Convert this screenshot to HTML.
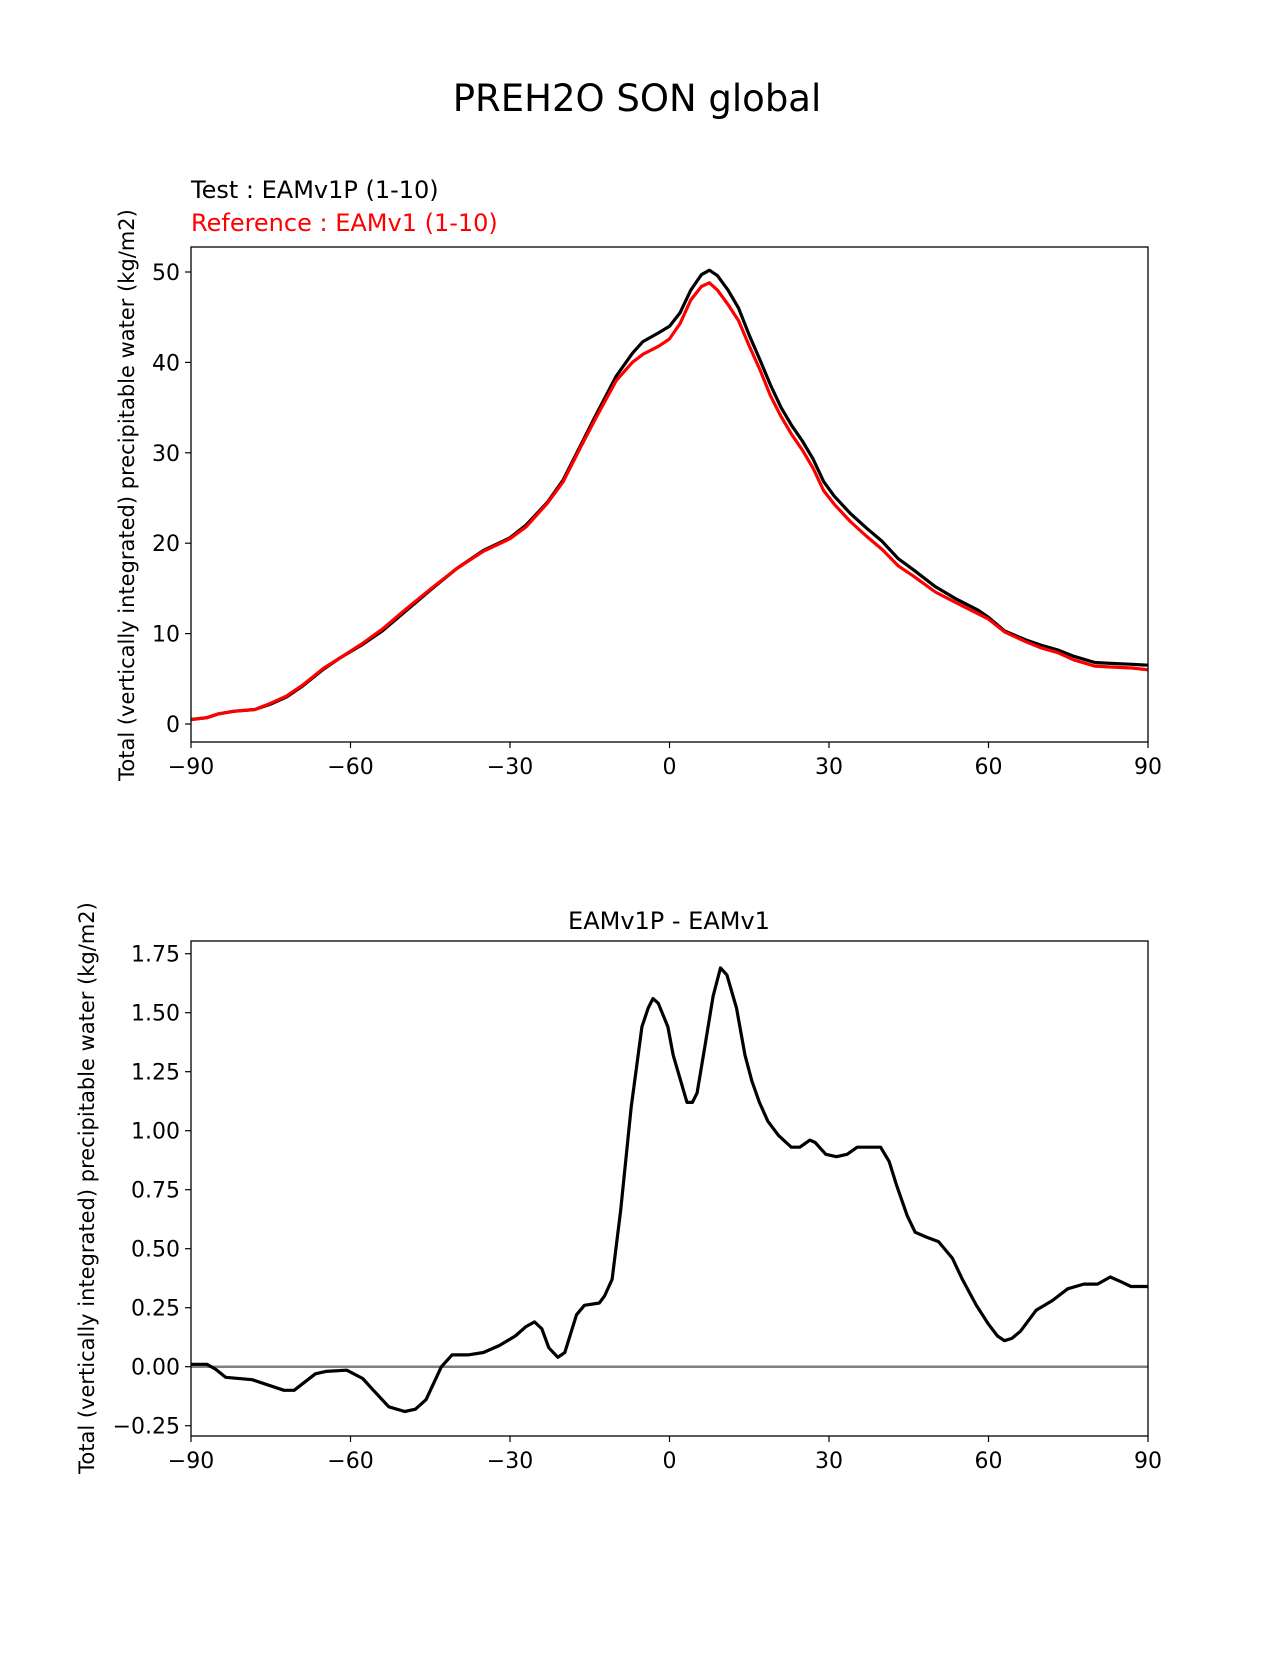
<!DOCTYPE html>
<html><head><meta charset="utf-8"><style>
body{margin:0;background:#fff;}
svg text{font-family:"DejaVu Sans","Liberation Sans",sans-serif;}
</style></head><body>
<svg id="chart" width="1275" height="1650" viewBox="0 0 1275 1650">
<text x="637" y="111" font-size="37" text-anchor="middle">PREH2O SON global</text>
<text x="191" y="198" font-size="24">Test : EAMv1P (1-10)</text>
<text x="191" y="231" font-size="24" fill="#ff0000">Reference : EAMv1 (1-10)</text>
<text x="669" y="929" font-size="24" text-anchor="middle">EAMv1P - EAMv1</text>
<g id="top"></g>
<g id="bot"></g>
</svg>
<script>
const lats = [-90,-87,-85,-82,-78,-75,-72,-69,-65,-62,-58,-54,-50,-45,-40,-35,-30,-27,-23,-20,-17,-14,-10,-7,-5,-2,0,2,4,6,7.5,9,11,13,15,17,19,21,23,25,27,29,31,34,37,40,43,46,50,54,58,60,63,67,70,73,76,80,83,87,90];
const testVals = [0.5,0.7,1.1,1.4,1.6,2.2,3.0,4.2,6.1,7.3,8.7,10.3,12.3,14.8,17.2,19.2,20.6,22.0,24.5,27.0,30.5,34.0,38.5,41.0,42.3,43.3,44.0,45.5,48.0,49.7,50.2,49.6,48.0,46.0,43.0,40.3,37.5,35.0,33.0,31.3,29.3,26.8,25.2,23.3,21.7,20.2,18.3,17.0,15.2,13.8,12.6,11.8,10.3,9.3,8.7,8.2,7.5,6.8,6.7,6.6,6.5];
const refVals = [0.5,0.7,1.1,1.4,1.6,2.3,3.1,4.3,6.2,7.3,8.8,10.5,12.5,14.9,17.2,19.1,20.5,21.8,24.4,26.8,30.3,33.7,38.0,40.0,40.9,41.8,42.6,44.3,46.9,48.4,48.8,48.0,46.4,44.6,41.8,39.2,36.3,34.0,32.0,30.3,28.3,25.8,24.3,22.4,20.8,19.3,17.5,16.3,14.6,13.4,12.2,11.6,10.2,9.1,8.4,7.9,7.1,6.4,6.3,6.2,6.0];
const diffLats = [-90,-87,-85.4,-83.5,-78.5,-72.5,-70.6,-66.6,-64.6,-60.7,-57.7,-55.7,-52.8,-49.8,-47.8,-45.8,-42.9,-40.9,-37.9,-35,-32,-29,-27,-25.4,-24,-22.7,-21,-19.7,-17.5,-16,-13.2,-12.2,-10.8,-9.2,-7.2,-5.2,-4,-3.1,-2.1,-0.3,0.7,3.3,4.3,5.2,6.6,8.2,9.6,10.8,12.6,14.2,15.5,16.9,18.5,20.5,22.9,24.5,26.4,27.4,29.4,31.4,33.4,35.3,37.9,39.7,41.3,42.7,44.7,46.2,48.2,50.6,53.2,55.1,57.7,60,61.7,63,64.4,66,69,72,74.9,77.9,80.5,82.9,84.9,86.8,90];
const diffVals = [0.01,0.01,-0.01,-0.045,-0.055,-0.10,-0.10,-0.03,-0.02,-0.015,-0.05,-0.10,-0.17,-0.19,-0.18,-0.14,0,0.05,0.05,0.06,0.09,0.13,0.17,0.19,0.16,0.08,0.04,0.06,0.22,0.26,0.27,0.30,0.37,0.66,1.10,1.44,1.52,1.56,1.54,1.44,1.32,1.12,1.12,1.16,1.35,1.57,1.69,1.66,1.52,1.32,1.21,1.12,1.04,0.98,0.93,0.93,0.96,0.95,0.90,0.89,0.90,0.93,0.93,0.93,0.87,0.77,0.64,0.57,0.55,0.53,0.46,0.37,0.26,0.18,0.13,0.11,0.12,0.15,0.24,0.28,0.33,0.35,0.35,0.38,0.36,0.34,0.34];
const xTicks = [-90,-60,-30,0,30,60,90];
const topYTicks = [0,10,20,30,40,50];
const botYTicks = [-0.25,0,0.25,0.5,0.75,1.0,1.25,1.5,1.75];
const botYLabels = ["\u22120.25","0.00","0.25","0.50","0.75","1.00","1.25","1.50","1.75"];

const NS="http://www.w3.org/2000/svg";
function mk(parent,tag,attrs){const e=document.createElementNS(NS,tag);for(const k in attrs)e.setAttribute(k,attrs[k]);parent.appendChild(e);return e;}
const L=191,R=1148;
const xs=v=>L+(v+90)/180*(R-L);
const fmt=v=>(v<0?"\u2212":"")+Math.abs(v);

function axes(g,top,bot,ys,yt,ylab,ylabX,yTitleY){
  xTicks.forEach(t=>{
    const l=mk(g,"line",{x1:xs(t),x2:xs(t),y1:bot,y2:bot+6,stroke:"#000","stroke-width":1.2});
    
    
    const tx=mk(g,"text",{x:xs(t),y:bot+32,"font-size":22,"text-anchor":"middle"});tx.textContent=fmt(t);
    
    
  });
  yt.forEach((t,i)=>{
    const l=mk(g,"line",{x1:L-6,x2:L,y1:ys(t),y2:ys(t),stroke:"#000","stroke-width":1.2});
    
    
    const tx=mk(g,"text",{x:L-11,y:ys(t)+8,"font-size":22,"text-anchor":"end"});tx.textContent=ylab(t,i);
    
    
  });
  const yt2=mk(g,"text",{x:0,y:0,"font-size":21,"text-anchor":"middle",transform:`translate(${ylabX},${yTitleY}) rotate(-90)`});
  yt2.textContent="Total (vertically integrated) precipitable water (kg/m2)";
  
  
}
function line(g,xa,ya,ys,color,name){
  const p=xa.map((x,i)=>xs(x).toFixed(1)+","+ys(ya[i]).toFixed(1)).join(" ");
  const pl=mk(g,"polyline",{points:p,fill:"none",stroke:color,"stroke-width":3.2,"stroke-linejoin":"round"});
  
  
}
// top
const gt=document.getElementById("top");
const T0=247,T1=742;
const ysT=v=>724-v*9.04;
line(gt,lats,testVals,ysT,"#000","test-line");
line(gt,lats,refVals,ysT,"#ff0000","reference-line");
const bt=mk(gt,"rect",{x:L,y:T0,width:R-L,height:T1-T0,fill:"none",stroke:"#000","stroke-width":1.3});


axes(gt,T0,T1,ysT,topYTicks,t=>String(t),134,495);
// bottom
const gb=document.getElementById("bot");
const B0=941,B1=1436;
const ysB=v=>1366.7-v*236;
const z=mk(gb,"line",{x1:L,x2:R,y1:ysB(0),y2:ysB(0),stroke:"#808080","stroke-width":2.5});


line(gb,diffLats,diffVals,ysB,"#000","diff-line");
const bb=mk(gb,"rect",{x:L,y:B0,width:R-L,height:B1-B0,fill:"none",stroke:"#000","stroke-width":1.3});


axes(gb,B0,B1,ysB,botYTicks,(t,i)=>botYLabels[i],94,1188);
</script>
</body></html>
